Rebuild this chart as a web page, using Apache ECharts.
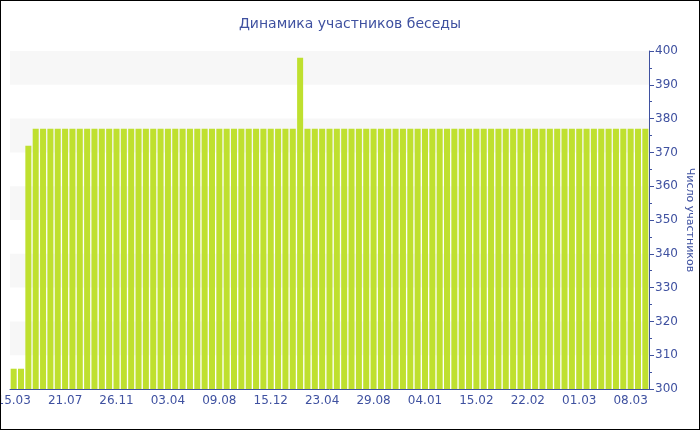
<!DOCTYPE html>
<html>
<head>
<meta charset="utf-8">
<script src="https://cdn.jsdelivr.net/npm/echarts@6/dist/echarts.min.js"></script>
<style>
html,body{margin:0;padding:0;background:#fff;}
#c{width:700px;height:430px;box-sizing:border-box;border:1px solid #000;}
</style>
</head>
<body>
<div id="c"></div>
<script>
const titleText = 'Динамика участников беседы';
const yAxisName = 'Число участников';
const categories = [
  '15.03','','','','','','',
  '21.07','','','','','','',
  '26.11','','','','','','',
  '03.04','','','','','','',
  '09.08','','','','','','',
  '15.12','','','','','','',
  '23.04','','','','','','',
  '29.08','','','','','','',
  '04.01','','','','','','',
  '15.02','','','','','','',
  '22.02','','','','','','',
  '01.03','','','','','','',
  '08.03','',''
];
const members = [
  306,306,372,
  377,377,377,377,377,377,377,377,377,377,
  377,377,377,377,377,377,377,377,377,377,
  377,377,377,377,377,377,377,377,377,377,
  377,377,377,377,377,377,
  398,
  377,377,377,377,377,377,377,377,377,377,
  377,377,377,377,377,377,377,377,377,377,
  377,377,377,377,377,377,377,377,377,377,
  377,377,377,377,377,377,377,377,377,377,
  377,377,377,377,377,377,377
];

const txt = '#3f51a0';
const chart = echarts.init(document.getElementById('c'), null, {renderer:'canvas'});
chart.setOption({
  animation:false,
  textStyle:{fontFamily:'DejaVu Sans'},
  title:{text:titleText,left:'center',top:11,textStyle:{color:txt,fontSize:14,fontWeight:'normal',fontFamily:'DejaVu Sans'}},
  grid:{left:9,right:50,top:50,bottom:40,containLabel:false,outerBoundsMode:'none'},
  xAxis:{
    type:'category',
    data:categories,
    axisLine:{lineStyle:{color:txt,width:1}},
    axisTick:{interval:6,alignWithLabel:true,length:4,lineStyle:{color:txt}},
    axisLabel:{interval:6,color:txt,fontSize:12,margin:6,fontFamily:'DejaVu Sans'},
    splitLine:{show:false}
  },
  yAxis:{
    type:'value',
    position:'right',
    min:300,max:400,interval:10,
    name:yAxisName,
    nameLocation:'middle',
    nameRotate:-90,
    nameGap:35,
    nameMoveOverlap:false,
    nameTextStyle:{color:txt,fontSize:11,fontFamily:'DejaVu Sans'},
    axisLine:{show:true,lineStyle:{color:txt}},
    axisTick:{show:true,length:5,lineStyle:{color:txt}},
    minorTick:{show:true,splitNumber:2,length:3,lineStyle:{color:txt}},
    axisLabel:{color:txt,fontSize:12,margin:6,fontFamily:'DejaVu Sans'},
    splitLine:{show:false},
    splitArea:{show:true,areaStyle:{color:['rgba(255,255,255,0)','#f7f7f7']}}
  },
  series:[{
    type:'bar',
    data:members,
    barCategoryGap:'18%',
    itemStyle:{color:'#bfe02f'}
  }]
});
</script>
</body>
</html>
